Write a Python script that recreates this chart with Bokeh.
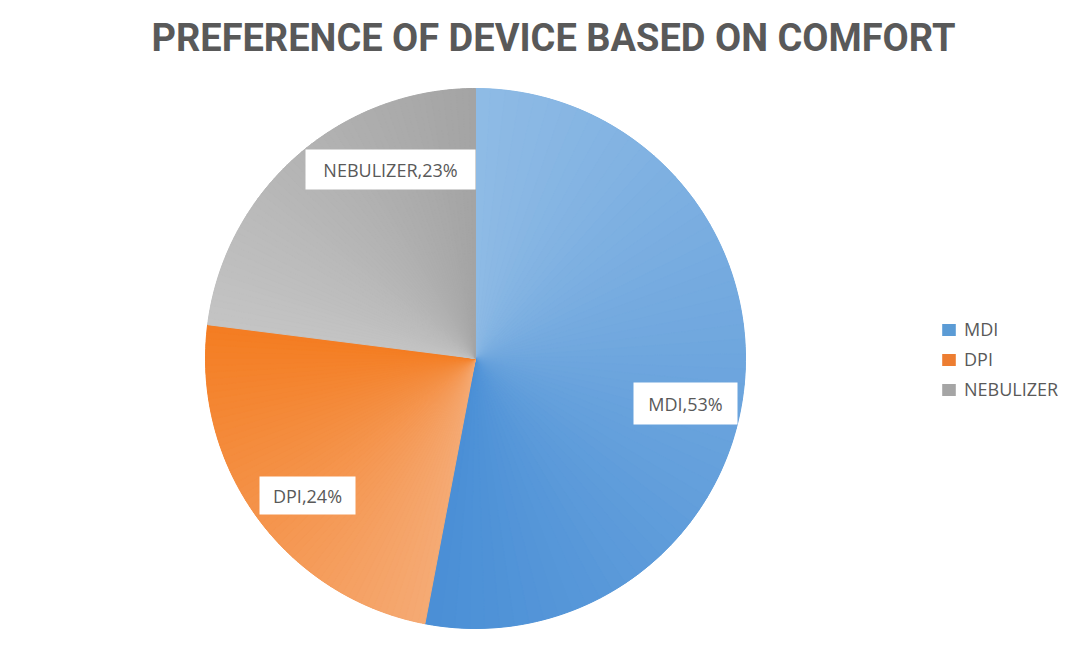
import math
from bokeh.plotting import figure
from bokeh.models import ColumnDataSource, Legend, LegendItem, Range1d
from bokeh.core.properties import value
from bokeh.embed import file_html
from bokeh.resources import INLINE

# ---------------- data ----------------
title_text = "PREFERENCE OF DEVICE BASED ON COMFORT"
devices = ["MDI", "DPI", "NEBULIZER"]
shares = [53, 24, 23]
label_texts = ["MDI,53%", "DPI,24%", "NEBULIZER,23%"]
legend_colors = ["#5b9bd5", "#ed7d31", "#a5a5a5"]
# gradient end colours for each slice (start of slice -> end of slice, clockwise from top)
grad_start = ["#8fbbe5", "#f5aa74", "#c4c4c4"]
grad_end = ["#4a8fd6", "#f47d22", "#a4a4a4"]

# ---------------- layout ----------------
W, H = 1072, 634
def sx(x):
    return x
def sy(y):
    return H - y

cx, cy, R = sx(475), sy(358), 270
label_cx = [685, 307, 390]
label_cy = [403, 495, 169]
label_w = [104, 96, 170]
label_h = [42, 38, 40]

p = figure(width=W, height=H, output_backend="svg", toolbar_location=None,
           x_range=Range1d(0, W), y_range=Range1d(0, H), min_border=0,
           background_fill_color="white", border_fill_color="white")
p.axis.visible = False
p.grid.visible = False
p.outline_line_color = None

def hex2rgb(h):
    h = h.lstrip("#")
    return tuple(int(h[i:i + 2], 16) for i in (0, 2, 4))

def lerp(c1, c2, t):
    a, b = hex2rgb(c1), hex2rgb(c2)
    return "#%02x%02x%02x" % tuple(int(round(a[k] + (b[k] - a[k]) * t)) for k in range(3))

total = float(sum(shares))
base_start, base_end = [], []
starts, ends, cols = [], [], []
cum = 0.0
N = 60
for i, s in enumerate(shares):
    a0 = math.pi / 2 - 2 * math.pi * cum / total
    a1 = math.pi / 2 - 2 * math.pi * (cum + s) / total
    cum += s
    base_start.append(a0)
    base_end.append(a1)
    for k in range(N):
        t0 = k / N
        t1 = (k + 1) / N
        starts.append(a0 + (a1 - a0) * t0)
        ends.append(a0 + (a1 - a0) * t1)
        cols.append(lerp(grad_start[i], grad_end[i], (t0 + t1) / 2))

# base slices (solid colours, used for the legend)
base_src = ColumnDataSource(dict(start=base_start, end=base_end, color=legend_colors,
                                 device=devices, x=[cx] * 3, y=[cy] * 3))
br = p.wedge(x="x", y="y", radius=R, start_angle="start", end_angle="end",
             direction="clock", fill_color="color", line_color=None, source=base_src)

# gradient overlay
src = ColumnDataSource(dict(start=starts, end=ends, color=cols,
                            x=[cx] * len(cols), y=[cy] * len(cols)))
p.wedge(x="x", y="y", radius=R, start_angle="start", end_angle="end",
        direction="clock", fill_color="color", line_color="color",
        line_width=1, source=src)

# data labels
lab_src = ColumnDataSource(dict(
    x=[sx(v) for v in label_cx], y=[sy(v) for v in label_cy],
    w=label_w, h=label_h, text=label_texts))
p.rect(x="x", y="y", width="w", height="h", fill_color="white",
       line_color=None, source=lab_src)
p.text(x="x", y="y", text="text", source=lab_src, text_align="center",
       text_baseline="middle", text_font=value("Open Sans"),
       text_font_size="18px", text_color="#595959")

# title
p.text(x=[sx(553)], y=[sy(37)], text=[title_text], text_align="center",
       text_baseline="alphabetic", text_font=value("Roboto"),
       text_font_style="bold", text_font_size="38px", text_color="#595959")

items = [LegendItem(label=d, renderers=[br], index=i) for i, d in enumerate(devices)]
legend = Legend(items=items, location=(940, 233), padding=0, margin=0,
                spacing=6, label_height=20, glyph_height=15, glyph_width=17,
                label_standoff=7, label_text_font="Open Sans",
                label_text_font_size="18px", label_text_color="#595959",
                border_line_color=None, background_fill_alpha=0)
p.add_layout(legend, "center")

open("out.html", "w").write(file_html(p, INLINE))
